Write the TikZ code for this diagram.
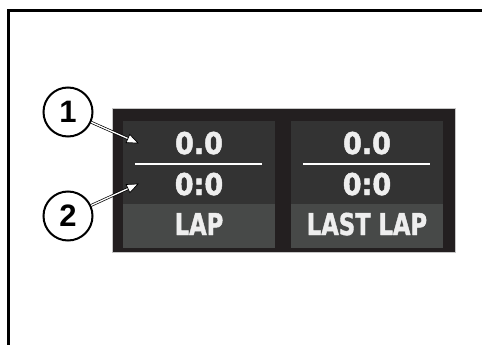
\documentclass[tikz,border=0pt]{standalone}
\usepackage{fontspec}
\setmainfont{Liberation Sans}
\newfontfamily\lapfont{DejaVu Sans Condensed}[BoldFeatures={FakeBold=1.6}]
\usetikzlibrary{calc}
\definecolor{outerbg}{HTML}{231F20}
\definecolor{topbg}{HTML}{333333}
\definecolor{botbg}{HTML}{474948}
\definecolor{txt}{HTML}{EEEEEE}
\tikzset{
  val/.style={anchor=base, inner sep=0pt, text=txt, font=\lapfont\bfseries\fontsize{30}{30}\selectfont},
  numc/.style={circle, draw=black, line width=2pt, fill=white, minimum size=49pt, inner sep=0pt, font=\bfseries\fontsize{31}{31}\selectfont},
  dblline/.style={draw=black, line width=0.7pt, double=white, double distance=1.3pt},
  tipst/.style={draw=black, line width=0.7pt, fill=white, line join=miter},
  sepline/.style={draw=white, line width=1.5pt},
}
\begin{document}
\begin{tikzpicture}[x=1pt,y=-1pt]
\useasboundingbox (0,0) rectangle (482,345);
\fill[white] (0,0) rectangle (482,345);
% frame
\draw[line width=3pt] (8.8,346) -- (8.8,10.6) -- (483,10.6);
% panel
\fill[outerbg] (112,108) rectangle (455,252);
\draw[gray!45, line width=0.6pt] (112,108) rectangle (455,252);
\fill[topbg] (123,121) rectangle (275,204);
\fill[botbg] (123,204) rectangle (275,248);
\fill[topbg] (291,121) rectangle (443,204);
\fill[botbg] (291,204) rectangle (443,248);
\draw[sepline] (135,164) -- (262,164);
\draw[sepline] (303,164) -- (430,164);
% texts
\node[val] (v1) at (199,154) {0.0};
\node[val] (v2) at (199,195) {0:0};
\node[val] (v3) at (199,235) {\scalebox{0.84}[1]{LAP}};
\node[val] (w1) at (367,154) {0.0};
\node[val] (w2) at (367,195) {0:0};
\node[val] (w3) at (367,235) {\scalebox{0.84}[1]{LAST LAP}};
% callouts
\node[numc] (c1) at (68,112) {1};
\node[numc] (c2) at (68,216) {2};
\coordinate (t1) at (138,143);
\coordinate (t2) at (138,184);
\coordinate (b1) at ($(t1)!11pt!(c1.center)$);
\coordinate (b2) at ($(t2)!11pt!(c2.center)$);
\coordinate (e1) at ($(t1)!9pt!(c1.center)$);
\coordinate (e2) at ($(t2)!9pt!(c2.center)$);
\draw[dblline] (c1) -- (e1);
\draw[dblline] (c2) -- (e2);
\draw[tipst] (t1) -- ($(b1)!4.5pt!90:(t1)$) -- ($(b1)!4.5pt!-90:(t1)$) -- cycle;
\draw[tipst] (t2) -- ($(b2)!4.5pt!90:(t2)$) -- ($(b2)!4.5pt!-90:(t2)$) -- cycle;
\end{tikzpicture}
\end{document}
